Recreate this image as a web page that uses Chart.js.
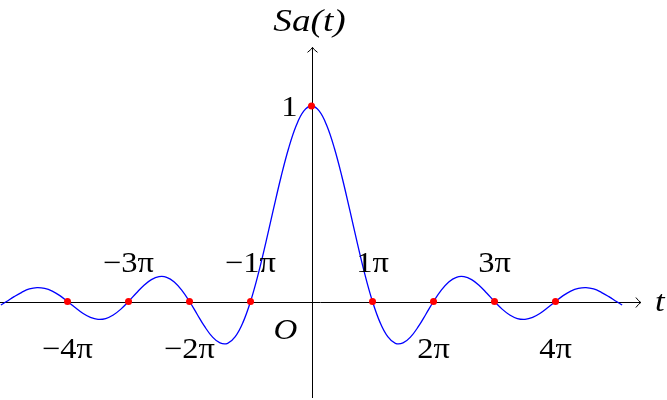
<!DOCTYPE html>
<html>
<head>
<meta charset="utf-8">
<script src="https://cdn.jsdelivr.net/npm/chart.js@4"></script>
<style>
  html, body { margin: 0; padding: 0; background: #fff; }
  #wrap { width: 667px; height: 400px; }
</style>
</head>
<body>
<div id="wrap"><canvas id="saChart"></canvas></div>
<script>
// t in multiples of pi, curve runs from t=-16 to t=16
var tPi = [
  -5.093, -5, -4.875, -4.75, -4.625, -4.5, -4.375, -4.25, -4.125,
  -4, -3.875, -3.75, -3.625, -3.5, -3.375, -3.25, -3.125,
  -3, -2.875, -2.75, -2.625, -2.5, -2.375, -2.25, -2.125,
  -2, -1.875, -1.75, -1.625, -1.5, -1.375, -1.25, -1.125,
  -1, -0.875, -0.75, -0.625, -0.5, -0.375, -0.25, -0.125,
  0, 0.125, 0.25, 0.375, 0.5, 0.625, 0.75, 0.875,
  1, 1.125, 1.25, 1.375, 1.5, 1.625, 1.75, 1.875,
  2, 2.125, 2.25, 2.375, 2.5, 2.625, 2.75, 2.875,
  3, 3.125, 3.25, 3.375, 3.5, 3.625, 3.75, 3.875,
  4, 4.125, 4.25, 4.375, 4.5, 4.625, 4.75, 4.875,
  5, 5.093
];
var saValues = [
  -0.018, 0, 0.025, 0.047, 0.064, 0.071, 0.067, 0.053, 0.030,
  0, -0.031, -0.060, -0.081, -0.091, -0.087, -0.069, -0.039,
  0, 0.042, 0.082, 0.112, 0.127, 0.124, 0.100, 0.057,
  0, -0.065, -0.129, -0.181, -0.212, -0.214, -0.180, -0.108,
  0, 0.139, 0.300, 0.471, 0.637, 0.784, 0.900, 0.975,
  1, 0.975, 0.900, 0.784, 0.637, 0.471, 0.300, 0.139,
  0, -0.108, -0.180, -0.214, -0.212, -0.181, -0.129, -0.065,
  0, 0.057, 0.100, 0.124, 0.127, 0.112, 0.082, 0.042,
  0, -0.039, -0.069, -0.087, -0.091, -0.081, -0.060, -0.031,
  0, 0.030, 0.053, 0.067, 0.071, 0.064, 0.047, 0.025,
  0, -0.018
];

// marked points (zeros and the peak)
var dotT = [-4, -3, -2, -1, 0, 1, 2, 3, 4];
var dotSa = [0, 0, 0, 0, 1, 0, 0, 0, 0];

// tick labels on the t axis, above or below
var tickT = [-4, -3, -2, -1, 1, 2, 3, 4];
var tickText = ['\u22124\u03c0', '\u22123\u03c0', '\u22122\u03c0', '\u22121\u03c0', '1\u03c0', '2\u03c0', '3\u03c0', '4\u03c0'];
var tickSide = ['below', 'above', 'below', 'above', 'above', 'below', 'above', 'below'];

var curvePts = tPi.map(function(t, i) { return { x: t, y: saValues[i] }; });
var dotPts = dotT.map(function(t, i) { return { x: t, y: dotSa[i] }; });

var serif = '"Liberation Serif", "DejaVu Serif", serif';

// text a bit wider, like the TeX font
function wideText(ctx, txt, x, y, sx) {
    ctx.save();
    ctx.translate(x, y);
    ctx.scale(sx, 1);
    ctx.fillText(txt, 0, 0);
    ctx.restore();
}

// axes with arrows and labels
var axesPlugin = {
    id: 'mathAxes',
    beforeDatasetsDraw: function(chart) {
        var ctx = chart.ctx;
        var xs = chart.scales.x, ys = chart.scales.y;
        var x0 = Math.round(xs.getPixelForValue(0)) + 0.5;
        var y0 = Math.round(ys.getPixelForValue(0)) + 0.5;
        var xEnd = xs.getPixelForValue(5.4);
        var yTop = ys.getPixelForValue(1.3);
        ctx.save();
        ctx.strokeStyle = '#000';
        ctx.lineWidth = 1;
        ctx.beginPath();
        ctx.moveTo(0, y0); ctx.lineTo(xEnd, y0);
        ctx.moveTo(x0, 398); ctx.lineTo(x0, yTop);
        ctx.stroke();
        // arrow heads
        ctx.beginPath();
        ctx.moveTo(xEnd - 5, y0 - 5); ctx.quadraticCurveTo(xEnd - 2, y0 - 1, xEnd, y0);
        ctx.quadraticCurveTo(xEnd - 2, y0 + 1, xEnd - 5, y0 + 5);
        ctx.moveTo(x0 - 5, yTop + 5); ctx.quadraticCurveTo(x0 - 1, yTop + 2, x0, yTop);
        ctx.quadraticCurveTo(x0 + 1, yTop + 2, x0 + 5, yTop + 5);
        ctx.stroke();
        ctx.restore();
    },
    afterDraw: function(chart) {
        var ctx = chart.ctx;
        var xs = chart.scales.x, ys = chart.scales.y;
        var x0 = xs.getPixelForValue(0);
        var y0 = ys.getPixelForValue(0);
        ctx.save();
        ctx.fillStyle = '#000';
        ctx.textBaseline = 'alphabetic';
        ctx.textAlign = 'center';
        ctx.font = '29px ' + serif;
        tickT.forEach(function(t, i) {
            var off = tickSide[i] === 'above' ? -30 : 56;
            wideText(ctx, tickText[i], xs.getPixelForValue(t), y0 + off, 1.12);
        });
        ctx.textAlign = 'right';
        wideText(ctx, '1', x0 - 14, ys.getPixelForValue(1) + 10, 1.12);
        ctx.font = 'italic 30px ' + serif;
        ctx.textAlign = 'center';
        wideText(ctx, 'O', x0 - 26, y0 + 37, 1.1);
        wideText(ctx, 't', xs.getPixelForValue(5.4) + 19, y0 + 9, 1.15);
        ctx.font = 'italic 31px ' + serif;
        wideText(ctx, 'Sa(t)', x0 - 2, 31, 1.2);
        ctx.restore();
    }
};

var ctx = document.getElementById('saChart');
new Chart(ctx, {
    type: 'line',
    data: {
        datasets: [{
            label: 'zeros',
            data: dotPts,
            showLine: false,
            pointRadius: 3.5,
            pointBackgroundColor: '#ff0000',
            pointBorderWidth: 0,
            order: 0
        }, {
            label: 'Sa(t)',
            data: curvePts,
            borderColor: '#0000ff',
            borderWidth: 1.3,
            pointRadius: 0,
            tension: 0.4,
            fill: false,
            order: 1
        }]
    },
    options: {
        responsive: true,
        maintainAspectRatio: false,
        animation: false,
        layout: { padding: 0, autoPadding: false },
        plugins: {
            legend: { display: false },
            tooltip: { enabled: false }
        },
        scales: {
            x: { type: 'linear', min: -5.107, max: 5.828, display: false },
            y: { type: 'linear', min: -0.5038, max: 1.5422, display: false }
        }
    },
    plugins: [axesPlugin]
});
</script>
</body>
</html>
